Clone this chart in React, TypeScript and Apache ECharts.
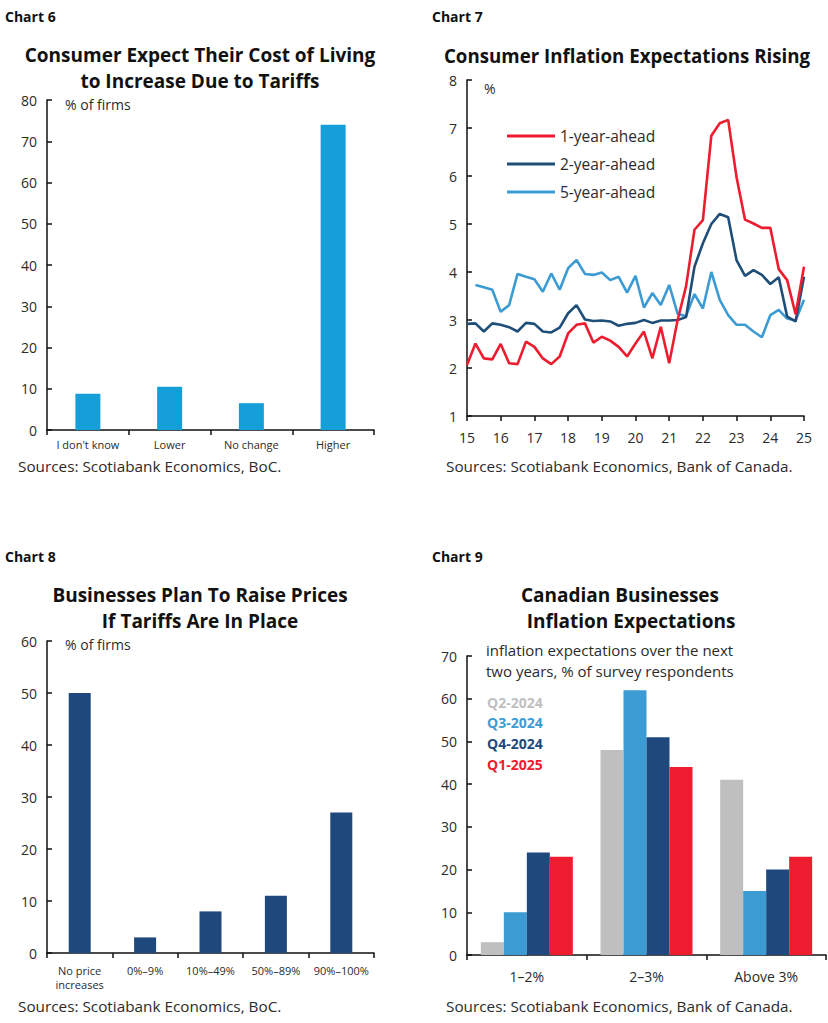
import React, { useEffect, useRef } from "react";
import * as echarts from "echarts";

const chart6Categories = ["I don't know", "Lower", "No change", "Higher"];
const chart6Values = [8.8, 10.5, 6.5, 74];

const chart7Start = 2015;
const chart7OneYear = [2.06, 2.51, 2.2, 2.18, 2.5, 2.1, 2.08, 2.55, 2.44, 2.2, 2.08, 2.24, 2.72, 2.9, 2.93, 2.53, 2.65, 2.57, 2.44, 2.24, 2.51, 2.76, 2.2, 2.86, 2.1, 3.0, 3.7, 4.88, 5.08, 6.84, 7.1, 7.17, 5.97, 5.09, 5.01, 4.92, 4.92, 4.06, 3.83, 3.12, 4.11];
const chart7TwoYear = [2.92, 2.93, 2.76, 2.93, 2.9, 2.85, 2.76, 2.94, 2.92, 2.76, 2.74, 2.84, 3.14, 3.31, 3.01, 2.98, 2.99, 2.97, 2.88, 2.92, 2.94, 3.0, 2.94, 2.99, 2.99, 3.0, 3.06, 4.11, 4.6, 5.0, 5.21, 5.14, 4.24, 3.92, 4.04, 3.94, 3.75, 3.89, 3.07, 2.97, 3.9];
const chart7FiveYear = [null, 3.73, 3.68, 3.63, 3.17, 3.31, 3.96, 3.9, 3.85, 3.59, 3.97, 3.63, 4.08, 4.25, 3.96, 3.94, 3.99, 3.83, 3.9, 3.57, 3.92, 3.26, 3.56, 3.31, 3.73, 3.13, 3.08, 3.54, 3.24, 4.0, 3.42, 3.1, 2.9, 2.9, 2.76, 2.64, 3.1, 3.21, 3.03, 2.99, 3.42];

const chart8Categories = ["No price\nincreases", "0%–9%", "10%–49%", "50%–89%", "90%–100%"];
const chart8Values = [50, 3, 8, 11, 27];

const chart9Categories = ["1–2%", "2–3%", "Above 3%"];
const chart9Q2_2024 = [3, 48, 41];
const chart9Q3_2024 = [10, 62, 15];
const chart9Q4_2024 = [24, 51, 20];
const chart9Q1_2025 = [23, 44, 23];

const FONT = "'Open Sans'";
const INK = "#2b2b2b";
const RED = "#ed1c2e";
const NAVY = "#1f4e79";
const SKY = "#3d9bd3";
const CYAN = "#149fd9";
const BAR_NAVY = "#1f497d";
const GREY = "#bfbfbf";

function toPairs(vals: (number | null)[]) {
  return vals.map((v, i) => [chart7Start + i * 0.25, v]);
}

function yAxisBase(gridIndex: number, min: number, max: number, interval: number) {
  return {
    type: "value",
    gridIndex,
    min,
    max,
    interval,
    splitLine: { show: false },
    axisLine: { show: true, lineStyle: { color: "#111", width: 1.5 } },
    axisTick: { show: true, inside: true, length: 5, lineStyle: { color: "#111", width: 1.5 } },
    axisLabel: { color: INK, fontFamily: FONT, fontSize: 14, margin: 10 },
  };
}

function catAxis(gridIndex: number, data: string[], fontSize: number, margin: number, lineHeight?: number) {
  return {
    type: "category",
    gridIndex,
    data,
    axisLine: { show: true, lineStyle: { color: "#111", width: 1.5 } },
    axisTick: { show: true, alignWithLabel: false, length: 5, lineStyle: { color: "#111", width: 1.5 } },
    axisLabel: { color: INK, fontFamily: FONT, fontSize, margin, interval: 0, lineHeight },
    splitLine: { show: false },
  };
}

function txt(x: number, y: number, text: string, opts: any = {}) {
  return {
    type: "text",
    x,
    y,
    style: {
      text,
      fill: opts.fill || INK,
      font: `${opts.weight || "normal"} ${opts.size || 14}px ${FONT}`,
      textAlign: opts.align || "left",
      textVerticalAlign: "middle",
    },
  };
}

export default function App() {
  const ref = useRef<HTMLDivElement>(null);
  useEffect(() => {
    if (!ref.current) return;
    const chart = echarts.init(ref.current, null, { renderer: "svg" });
    const option: any = {
      animation: false,
      backgroundColor: "#ffffff",
      grid: [
        { left: 47, top: 100, width: 327, height: 330 },
        { left: 467, top: 80, width: 337, height: 336 },
        { left: 47, top: 641, width: 327, height: 312 },
        { left: 467, top: 656, width: 359, height: 299 },
      ],
      xAxis: [
        catAxis(0, chart6Categories, 11, 9),
        {
          type: "value",
          gridIndex: 1,
          min: 2015,
          max: 2025,
          interval: 1,
          splitLine: { show: false },
          axisLine: { show: true, lineStyle: { color: "#111", width: 1.5 } },
          axisTick: { show: true, length: 5, lineStyle: { color: "#111", width: 1.5 } },
          axisLabel: {
            color: INK,
            fontFamily: FONT,
            fontSize: 14,
            margin: 14,
            formatter: (v: number) => String(Math.round(v) % 100),
          },
        },
        catAxis(2, chart8Categories, 11, 10, 14),
        catAxis(3, chart9Categories, 14, 14),
      ],
      yAxis: [
        yAxisBase(0, 0, 80, 10),
        yAxisBase(1, 1, 8, 1),
        yAxisBase(2, 0, 60, 10),
        yAxisBase(3, 0, 70, 10),
      ],
      legend: {
        data: ["1-year-ahead", "2-year-ahead", "5-year-ahead"],
        orient: "vertical",
        left: 502,
        top: 123,
        icon: "rect",
        itemWidth: 48,
        itemHeight: 3,
        itemGap: 12,
        textStyle: { color: INK, fontFamily: FONT, fontSize: 15.5, lineHeight: 14 },
      },
      series: [
        {
          type: "bar",
          name: "chart6",
          xAxisIndex: 0,
          yAxisIndex: 0,
          data: chart6Values,
          barWidth: 25,
          itemStyle: { color: CYAN },
        },
        {
          type: "line",
          name: "1-year-ahead",
          xAxisIndex: 1,
          yAxisIndex: 1,
          data: toPairs(chart7OneYear),
          symbol: "none",
          lineStyle: { color: RED, width: 2.6 },
          itemStyle: { color: RED },
          z: 4,
        },
        {
          type: "line",
          name: "2-year-ahead",
          xAxisIndex: 1,
          yAxisIndex: 1,
          data: toPairs(chart7TwoYear),
          symbol: "none",
          lineStyle: { color: NAVY, width: 2.6 },
          itemStyle: { color: NAVY },
          z: 3,
        },
        {
          type: "line",
          name: "5-year-ahead",
          xAxisIndex: 1,
          yAxisIndex: 1,
          data: toPairs(chart7FiveYear),
          symbol: "none",
          lineStyle: { color: SKY, width: 2.6 },
          itemStyle: { color: SKY },
          z: 2,
        },
        {
          type: "bar",
          name: "chart8",
          xAxisIndex: 2,
          yAxisIndex: 2,
          data: chart8Values,
          barWidth: 22,
          itemStyle: { color: BAR_NAVY },
        },
        { type: "bar", name: "Q2-2024", xAxisIndex: 3, yAxisIndex: 3, data: chart9Q2_2024, barWidth: 23, barGap: "0%", itemStyle: { color: GREY } },
        { type: "bar", name: "Q3-2024", xAxisIndex: 3, yAxisIndex: 3, data: chart9Q3_2024, barWidth: 23, barGap: "0%", itemStyle: { color: SKY } },
        { type: "bar", name: "Q4-2024", xAxisIndex: 3, yAxisIndex: 3, data: chart9Q4_2024, barWidth: 23, barGap: "0%", itemStyle: { color: BAR_NAVY } },
        { type: "bar", name: "Q1-2025", xAxisIndex: 3, yAxisIndex: 3, data: chart9Q1_2025, barWidth: 23, barGap: "0%", itemStyle: { color: RED } },
      ],
      graphic: [
        txt(5, 16, "Chart 6", { weight: "bold", size: 14, fill: "#111" }),
        txt(432, 16, "Chart 7", { weight: "bold", size: 14, fill: "#111" }),
        txt(5, 556, "Chart 8", { weight: "bold", size: 14, fill: "#111" }),
        txt(432, 556, "Chart 9", { weight: "bold", size: 14, fill: "#111" }),
        txt(200, 55, "Consumer Expect Their Cost of Living", { weight: "bold", size: 19, align: "center", fill: "#111" }),
        txt(200, 81, "to Increase Due to Tariffs", { weight: "bold", size: 19, align: "center", fill: "#111" }),
        txt(627, 55, "Consumer Inflation Expectations Rising", { weight: "bold", size: 18.7, align: "center", fill: "#111" }),
        txt(200, 595, "Businesses Plan To Raise Prices", { weight: "bold", size: 19, align: "center", fill: "#111" }),
        txt(200, 621, "If Tariffs Are In Place", { weight: "bold", size: 19, align: "center", fill: "#111" }),
        txt(620, 595, "Canadian Businesses", { weight: "bold", size: 19, align: "center", fill: "#111" }),
        txt(631, 621, "Inflation Expectations", { weight: "bold", size: 19, align: "center", fill: "#111" }),
        txt(65, 104, "% of firms", { size: 14 }),
        txt(484, 88, "%", { size: 14 }),
        txt(65, 644, "% of firms", { size: 14 }),
        txt(486, 650, "inflation expectations over the next", { size: 15 }),
        txt(486, 671, "two years, % of survey respondents", { size: 15 }),
        txt(487, 702, "Q2-2024", { weight: "bold", size: 14, fill: GREY }),
        txt(487, 722, "Q3-2024", { weight: "bold", size: 14, fill: SKY }),
        txt(487, 743, "Q4-2024", { weight: "bold", size: 14, fill: BAR_NAVY }),
        txt(487, 764, "Q1-2025", { weight: "bold", size: 14, fill: RED }),
        txt(18, 466, "Sources: Scotiabank Economics, BoC.", { size: 15.3 }),
        txt(446, 466, "Sources: Scotiabank Economics, Bank of Canada.", { size: 15.3 }),
        txt(18, 1006, "Sources: Scotiabank Economics, BoC.", { size: 15.3 }),
        txt(446, 1006, "Sources: Scotiabank Economics, Bank of Canada.", { size: 15.3 }),
      ],
    };
    chart.setOption(option);
    return () => chart.dispose();
  }, []);
  return (
    <div
      ref={ref}
      style={{ position: "absolute", left: 0, top: 0, width: 828, height: 1023, background: "#fff" }}
    />
  );
}
